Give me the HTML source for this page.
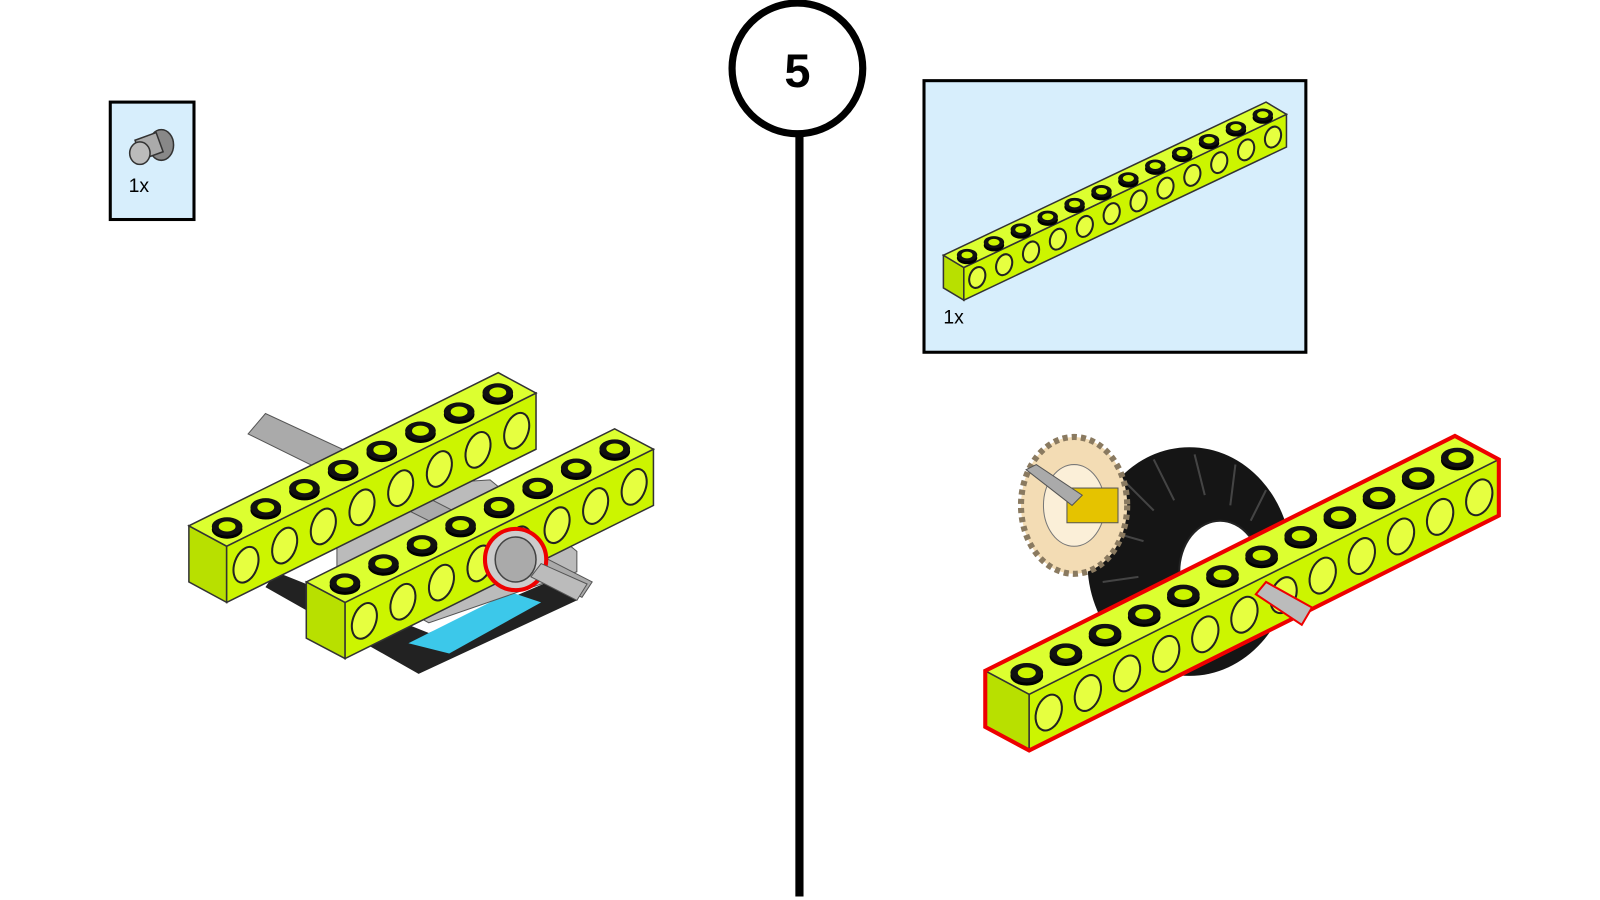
<!DOCTYPE html>
<html><head><meta charset="utf-8"><style>
html,body{margin:0;padding:0;background:#fff}
svg{display:block}
text{font-family:"Liberation Sans",sans-serif}
</style></head><body>
<svg width="1600" height="900" viewBox="0 0 1600 900" xmlns="http://www.w3.org/2000/svg">
<rect width="1600" height="900" fill="#fff"/>
<g id="s" transform="scale(1.021)">
<line x1="783" y1="125" x2="783" y2="878" stroke="#000" stroke-width="8"/>
<circle cx="781" cy="67" r="64" fill="#fff" stroke="#000" stroke-width="7"/>
<text x="781" y="85" font-size="46" font-weight="bold" text-anchor="middle">5</text>
<rect x="108" y="100" width="82" height="115" fill="#d7eefc" stroke="#000" stroke-width="3"/>
<ellipse cx="158" cy="142" rx="12" ry="15" fill="#888" stroke="#333" stroke-width="1.5"/>
<rect x="135" y="133" width="22" height="20" fill="#aaa" stroke="#333" stroke-width="1.5" transform="rotate(-20 146 143)"/>
<ellipse cx="137" cy="150" rx="10" ry="11" fill="#bbb" stroke="#333" stroke-width="1.5"/>
<text x="126" y="188" font-size="19">1x</text>
<rect x="905" y="79" width="374" height="266" fill="#d7eefc" stroke="#000" stroke-width="3"/>
<text x="924" y="317" font-size="19">1x</text>
<polygon points="260,575 410,660 565,588 560,560 420,620 270,560" fill="#222"/>
<polygon points="400,630 500,580 530,590 440,640" fill="#3cc8ea"/>
<polygon points="330,480 480,470 565,540 565,560 420,610 330,560" fill="#bbb" stroke="#555"/>
<polygon points="243,425 260,405 400,470 385,495" fill="#aaa" stroke="#555"/>
<polygon points="360,480 375,465 580,570 570,585" fill="#aaa" stroke="#555"/>
<g id="g"></g>
<ellipse cx="1165" cy="550" rx="100" ry="112" fill="#151515"/>
<g stroke="#444" stroke-width="2" fill="none">
<path d="M1100 470 L1130 500 M1130 450 L1150 490 M1170 445 L1180 485 M1210 455 L1205 495 M1240 480 L1225 510 M1085 520 L1120 530 M1080 570 L1115 565 M1095 615 L1125 595"/>
</g>
<ellipse cx="1195" cy="560" rx="40" ry="50" fill="#fff" stroke="#222" stroke-width="2"/>
<ellipse cx="1052" cy="495" rx="52" ry="67" fill="#f3dcb4" stroke="#8a7a60" stroke-width="6" stroke-dasharray="5 4"/>
<ellipse cx="1052" cy="495" rx="30" ry="40" fill="#fbefd8" stroke="#777"/>
<rect x="1045" y="478" width="50" height="34" fill="#e5c300" stroke="#555"/>
<polygon points="1005,460 1015,455 1060,485 1050,495" fill="#aaa" stroke="#555"/>
<g id="g2"></g>
<polygon points="1230,582 1240,570 1285,595 1275,612" fill="#bbb" stroke="#e00" stroke-width="2"/>
</g>
</svg>
<script>
var NS="http://www.w3.org/2000/svg";
function el(parent,tag,a){var e=document.createElementNS(NS,tag);for(var k in a)e.setAttribute(k,a[k]);parent.appendChild(e);return e;}
function pts(a){return a.map(function(p){return p[0]+","+p[1]}).join(" ");}
function beam(g,P,w,L,h,n,sr,red){
 var A=P,B=[P[0]+w[0],P[1]+w[1]],C=[B[0]+L[0],B[1]+L[1]],D=[P[0]+L[0],P[1]+L[1]];
 var dn=function(p){return [p[0],p[1]+h]};
 el(g,"polygon",{points:pts([A,B,dn(B),dn(A)]),fill:"#b8e000",stroke:"#333","stroke-width":1.5});
 el(g,"polygon",{points:pts([B,C,dn(C),dn(B)]),fill:"#ccf500",stroke:"#333","stroke-width":1.5});
 el(g,"polygon",{points:pts([A,B,C,D]),fill:"#dcff30",stroke:"#333","stroke-width":1.5});
 if(red)el(g,"polygon",{points:pts([A,D,C,dn(C),dn(B),dn(A)]),fill:"none",stroke:"#e00","stroke-width":4});
 for(var i=0;i<n;i++){
  var t=(i+0.5)/n;
  var cx=P[0]+w[0]/2+L[0]*t,cy=P[1]+w[1]/2+L[1]*t;
  el(g,"ellipse",{cx:cx,cy:cy+3,rx:sr,ry:sr*0.6,fill:"#000"});
  el(g,"ellipse",{cx:cx,cy:cy,rx:sr,ry:sr*0.6,fill:"#111"});
  el(g,"ellipse",{cx:cx,cy:cy,rx:sr*0.55,ry:sr*0.33,fill:"#ccf500"});
  var hx=B[0]+L[0]*t,hy=B[1]+L[1]*t+h/2;
  el(g,"ellipse",{cx:hx,cy:hy,rx:sr*0.75,ry:h*0.33,fill:"#e6ff40",stroke:"#222","stroke-width":2,transform:"rotate(20 "+hx+" "+hy+")"});
 }
}
var g=document.getElementById("g"),g2=document.getElementById("g2");
beam(g,[185,515],[37,20],[303,-150],55,8,15,false);
beam(g,[300,570],[38,20],[302,-150],55,8,15,false);
el(g,"ellipse",{cx:505,cy:548,rx:30,ry:30,fill:"#ccc",stroke:"#e00","stroke-width":4});
el(g,"ellipse",{cx:505,cy:548,rx:20,ry:22,fill:"#aaa",stroke:"#444","stroke-width":1.5});
el(g,"polygon",{points:"520,565 530,552 575,572 565,588",fill:"#bbb",stroke:"#555"});
beam(g2,[965,657],[43,23],[460,-230],55,12,16,true);
beam(document.getElementById("s"),[924,250],[20,12],[316,-150],32,12,10,false);
</script>
</body></html>
